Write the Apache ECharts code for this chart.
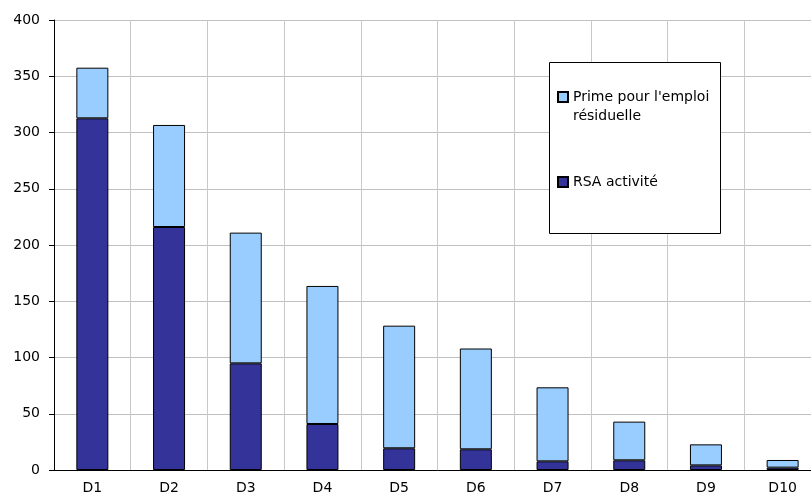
<!DOCTYPE html>
<html>
<head>
<meta charset="utf-8">
<script src="https://cdn.jsdelivr.net/npm/echarts@6/dist/echarts.min.js"></script>
<style>
html,body{margin:0;padding:0;background:#fff;overflow:hidden;}
#chart{width:821px;height:498px;}
</style>
</head>
<body>
<div id="chart"></div>
<script>
// deciles
var deciles = ['D1','D2','D3','D4','D5','D6','D7','D8','D9','D10'];
// RSA activité (bas de la pile)
var rsaActivite = [312.6, 216, 94.8, 40.9, 19.3, 18.4, 7.7, 8.6, 4.1, 2.1];
// Prime pour l'emploi résiduelle (haut de la pile)
var primeResiduelle = [45, 90.7, 116.2, 122.7, 109, 89.6, 65.8, 34.4, 18.7, 6.8];

// le graphique d'origine est coupé à droite : la zone de tracé dépasse la fenêtre
var myChart = echarts.init(document.getElementById('chart'));
var font = 'DejaVu Sans, Arial, sans-serif';
var option = {
	animation: false,
	backgroundColor: '#fff',
	grid: { left: 54, top: 20, right: 0, bottom: 28 },
	graphic: [{
		type: 'rect',
		shape: { x: 549.5, y: 62.5, width: 171, height: 171 },
		style: { fill: '#fff', stroke: '#000', lineWidth: 1 },
		z: 10
	}],
	legend: {
		orient: 'vertical',
		left: 557,
		top: 68.5,
		padding: 0,
		itemGap: 47,
		itemWidth: 10,
		itemHeight: 10,
		icon: 'rect',
		z: 20,
		data: ['Prime pour l\'emploi résiduelle', 'RSA activité'],
		formatter: function(name){
			if (name === 'RSA activité') return name;
			return '\nPrime pour l\'emploi\nrésiduelle';
		},
		textStyle: { fontFamily: font, fontSize: 14, color: '#000', lineHeight: 19 }
	},
	xAxis: {
		type: 'category',
		data: deciles,
		axisLine: { lineStyle: { color: '#000', width: 1 } },
		axisTick: { length: 6, lineStyle: { color: '#000' } },
		axisLabel: { fontFamily: font, fontSize: 14, color: '#000', margin: 11 },
		splitLine: { show: true, lineStyle: { color: '#c8c8c8', width: 1 } }
	},
	yAxis: {
		type: 'value',
		min: 0,
		max: 400,
		interval: 50,
		axisLine: { show: true, lineStyle: { color: '#000', width: 1 } },
		axisTick: { show: true, length: 5, lineStyle: { color: '#000' } },
		axisLabel: { fontFamily: font, fontSize: 14, color: '#000', margin: 14 },
		splitLine: { lineStyle: { color: '#c0c0c0', width: 1 } }
	},
	series: [{
		name: 'RSA activité',
		type: 'bar',
		stack: 'total',
		barWidth: 32,
		data: rsaActivite,
		itemStyle: { color: '#333399', borderColor: '#000', borderWidth: 1 }
	}, {
		name: 'Prime pour l\'emploi résiduelle',
		type: 'bar',
		stack: 'total',
		barWidth: 32,
		data: primeResiduelle,
		itemStyle: { color: '#99ccff', borderColor: '#000', borderWidth: 1 }
	}]
};
myChart.setOption(option);
</script>
</body>
</html>
